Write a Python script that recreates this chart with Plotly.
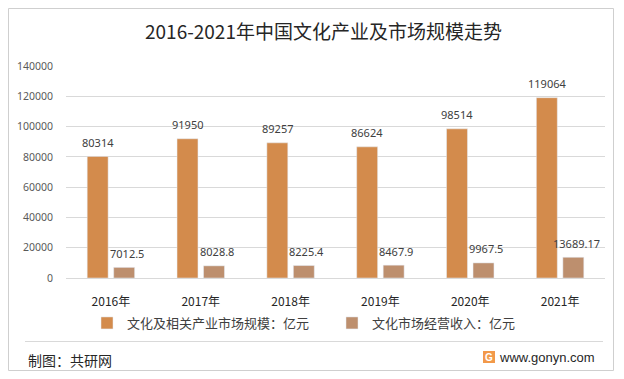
import plotly.graph_objects as go

years = ["2016年", "2017年", "2018年", "2019年", "2020年", "2021年"]
market_size = [80314, 91950, 89257, 86624, 98514, 119064]
market_revenue = [7012.5, 8028.8, 8225.4, 8467.9, 9967.5, 13689.17]
size_labels = ["80314", "91950", "89257", "86624", "98514", "119064"]
revenue_labels = ["7012.5", "8028.8", "8225.4", "8467.9", "9967.5", "13689.17"]
series_names = ["文化及相关产业市场规模：亿元", "文化市场经营收入：亿元"]
y_ticks = [0, 20000, 40000, 60000, 80000, 100000, 120000, 140000]

W, H = 624, 379
L, R, T, B = 66, 605, 66, 278


def px(x):
    return (x - L) / (R - L)


def py(y):
    return (B - y) / (B - T)


CJK = "Noto Sans CJK SC"
NUM = "Noto Sans, Noto Sans CJK SC"
ORANGE = "#D38B4C"
BROWN = "#BD8F6E"

fig = go.Figure()
fig.add_trace(go.Bar(x=years, y=market_size, name=series_names[0],
                     marker_color=ORANGE))
fig.add_trace(go.Bar(x=years, y=market_revenue, name=series_names[1],
                     marker_color=BROWN))

ann = []
for xv, yv, t in zip(years, market_size, size_labels):
    ann.append(dict(x=xv, y=yv, text=t, xref="x", yref="y", showarrow=False,
                    xshift=-13, yshift=14, yanchor="middle",
                    font=dict(family=NUM, size=11, color="#404040")))
for xv, yv, t in zip(years, market_revenue, revenue_labels):
    ann.append(dict(x=xv, y=yv, text=t, xref="x", yref="y", showarrow=False,
                    xshift=16, yshift=14, yanchor="middle",
                    font=dict(family=NUM, size=11, color="#404040")))

ann.append(dict(x=px(323), y=py(30), xref="paper", yref="paper",
                text="2016-2021年中国文化产业及市场规模走势", showarrow=False,
                xanchor="center", yanchor="middle",
                font=dict(family=CJK, size=19, color="#262626")))
ann.append(dict(x=px(26), y=py(360), xref="paper", yref="paper",
                text="制图：共研网", showarrow=False, xanchor="left",
                yanchor="middle", font=dict(family=CJK, size=14, color="#262626")))
ann.append(dict(x=px(597), y=py(357), xref="paper", yref="paper",
                text="www.gonyn.com", showarrow=False, xanchor="right",
                yanchor="middle", font=dict(family="Liberation Sans", size=13, color="#262626")))
ann.append(dict(x=px(489), y=py(357), xref="paper", yref="paper",
                text="<b>G</b>", showarrow=False, xanchor="center",
                yanchor="middle", font=dict(family="Liberation Sans", size=10, color="white")))

shapes = [
    dict(type="rect", xref="paper", yref="paper", x0=px(8.5), x1=px(613.5),
         y0=py(370.5), y1=py(8.5), line=dict(color="#CFCFCF", width=1), layer="above"),
    dict(type="line", xref="paper", yref="paper", x0=px(25), x1=px(603),
         y0=py(341.5), y1=py(341.5), line=dict(color="#D9D9D9", width=1)),
    dict(type="rect", xref="paper", yref="paper", x0=px(483), x1=px(495),
         y0=py(363), y1=py(351), line=dict(width=0), fillcolor="#F2994A", layer="below"),
]

fig.update_layout(
    width=W, height=H,
    margin=dict(l=L, r=W - R, t=T, b=H - B, pad=0),
    paper_bgcolor="white", plot_bgcolor="white",
    barmode="group", bargap=0.41, bargroupgap=0.21,
    showlegend=True,
    legend=dict(orientation="h", x=px(87), y=py(323), xanchor="left", yanchor="middle",
                font=dict(family=CJK, size=13, color="#404040"),
                entrywidth=200, entrywidthmode="pixels", itemwidth=30,
                bgcolor="rgba(0,0,0,0)", traceorder="normal"),
    annotations=ann, shapes=shapes,
)
fig.update_xaxes(showgrid=False, showline=False, ticks="", zeroline=False,
                 tickfont=dict(family=CJK, size=12, color="#262626"),
                 ticklabelstandoff=15)
fig.update_yaxes(range=[0, 140000], tickvals=y_ticks, tickformat="d", showgrid=True,
                 gridcolor="#D9D9D9", gridwidth=1, zeroline=True,
                 zerolinecolor="#D9D9D9", zerolinewidth=1, showline=False,
                 ticks="", tickfont=dict(family=NUM, size=10.5, color="#595959"),
                 ticklabelstandoff=12)

fig.write_html("out.html", config={"displayModeBar": False},
               post_script="document.body.style.margin='0';document.body.style.overflow='hidden';")
